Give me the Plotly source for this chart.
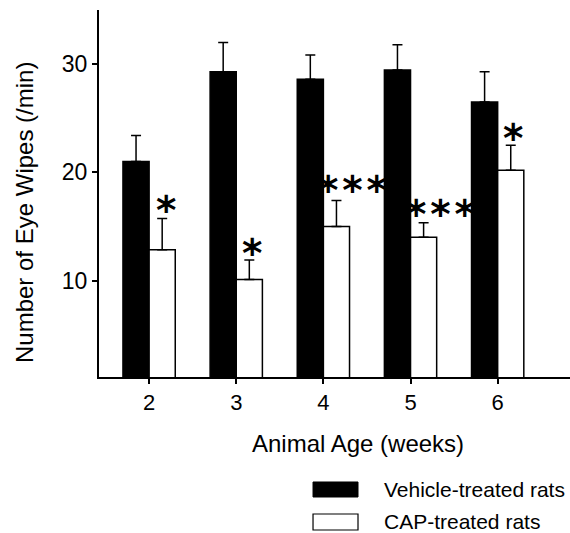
import plotly.graph_objects as go

weeks = [2, 3, 4, 5, 6]
vehicle_mean = [21.0, 29.3, 28.6, 29.45, 26.5]
vehicle_err = [2.4, 2.7, 2.25, 2.35, 2.8]
cap_mean = [12.85, 10.1, 15.0, 14.0, 20.2]
cap_err = [2.9, 1.8, 2.4, 1.35, 2.3]
sig_labels = ["*", "*", "***", "***", "*"]
sig_dx = [0.19, 0.18, 0.335, 0.34, 0.175]
sig_dy = [0.7, 0.65, 0.95, 0.8, 0.65]

FONT = "Liberation Sans, Arial, sans-serif"
STAR_FONT = "DejaVu Sans"

fig = go.Figure()
fig.add_trace(go.Bar(
    x=weeks, y=vehicle_mean, name="Vehicle-treated rats",
    marker=dict(color="black", line=dict(color="black", width=1.5)),
    error_y=dict(type="data", array=vehicle_err, arrayminus=[0]*5, symmetric=False,
                 color="black", thickness=1.5, width=5),
))
fig.add_trace(go.Bar(
    x=weeks, y=cap_mean, name="CAP-treated rats",
    marker=dict(color="white", line=dict(color="black", width=1.5)),
    error_y=dict(type="data", array=cap_err, arrayminus=[0]*5, symmetric=False,
                 color="black", thickness=1.5, width=5),
))

for w, m, e, lab, dx, dy in zip(weeks, cap_mean, cap_err, sig_labels, sig_dx, sig_dy):
    fig.add_annotation(x=w + dx, y=m + e + dy, text=lab.replace("***", "*\u200a*\u200a*"),
                       showarrow=False, xanchor="center", yanchor="middle",
                       font=dict(family=STAR_FONT, size=39, color="black", weight="bold"))

# axis titles
fig.add_annotation(xref="paper", yref="paper", x=-0.157, y=0.447,
                   text="Number of Eye Wipes (/min)", textangle=-90, showarrow=False,
                   xanchor="center", yanchor="middle",
                   font=dict(family=FONT, size=24, color="black"))
fig.add_annotation(xref="paper", yref="paper", x=0.55, y=-0.18,
                   text="Animal Age (weeks)", showarrow=False,
                   xanchor="center", yanchor="middle",
                   font=dict(family=FONT, size=24, color="black"))

# manual legend
fig.add_shape(type="rect", xref="paper", yref="paper", x0=0.4544, x1=0.5499,
              y0=-0.327, y1=-0.2861, fillcolor="black", line=dict(color="black", width=1))
fig.add_shape(type="rect", xref="paper", yref="paper", x0=0.4544, x1=0.5499,
              y0=-0.4169, y1=-0.3733, fillcolor="white", line=dict(color="black", width=1.2))
fig.add_annotation(xref="paper", yref="paper", x=0.6008, y=-0.3079,
                   text="Vehicle-treated rats", showarrow=False,
                   xanchor="left", yanchor="middle",
                   font=dict(family=FONT, size=21, color="black"))
fig.add_annotation(xref="paper", yref="paper", x=0.6008, y=-0.395,
                   text="CAP-treated rats", showarrow=False,
                   xanchor="left", yanchor="middle",
                   font=dict(family=FONT, size=21, color="black"))

fig.update_layout(
    width=570, height=533,
    margin=dict(l=99, r=0, t=10, b=156),
    paper_bgcolor="white", plot_bgcolor="white",
    showlegend=False,
    barmode="group", bargap=0.4, bargroupgap=0,
    font=dict(family=FONT, size=22, color="black"),
    xaxis=dict(range=[1.425, 6.83], tickvals=weeks, ticktext=[str(w) for w in weeks],
               showline=True, linecolor="black", linewidth=2,
               ticks="outside", ticklen=5, tickwidth=1.5, tickcolor="black",
               showgrid=False, zeroline=False, tickfont=dict(size=22)),
    yaxis=dict(range=[1.1, 35], tickvals=[10, 20, 30],
               showline=True, linecolor="black", linewidth=2,
               ticks="outside", ticklen=5, tickwidth=1.5, tickcolor="black",
               showgrid=False, zeroline=False, tickfont=dict(size=23)),
)

fig.write_html("out.html")
